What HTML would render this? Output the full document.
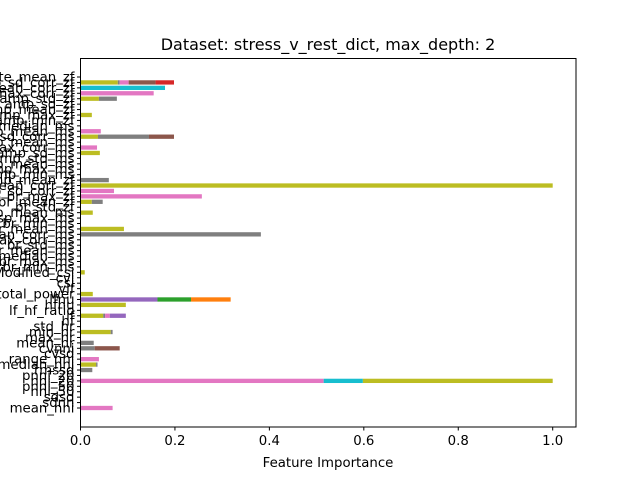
<!DOCTYPE html>
<html><head><meta charset="utf-8"><style>
body{margin:0;background:#fff}
svg{display:block;font-family:"DejaVu Sans","Liberation Sans",sans-serif}
</style></head><body>
<svg id="chart" width="640" height="480" viewBox="0 0 640 480">
<rect width="640" height="480" fill="#fff"/>
<text x="328" y="50" font-size="16" text-anchor="middle" fill="#000">Dataset: stress_v_rest_dict, max_depth: 2</text>
<g id="bars"></g>
<g id="yaxis"></g>
<g id="xaxis"></g>
<rect x="80.5" y="58.5" width="495.5" height="368.5" fill="none" stroke="#000" stroke-width="1"/>
<text x="328" y="467" font-size="13.3" text-anchor="middle" fill="#000">Feature Importance</text>
</svg>
<script>
const categories = ["mean_nni","sdnn","sdsd","nni_50","pnni_50","nni_20","pnni_20","rmssd","median_nni","range_nni","cvsd","cvnni","mean_hr","max_hr","min_hr","std_hr","hf","lf","lf_hf_ratio","hfnu","lfnu","total_power","vlf","csi","cvi","Modified_csi",
"br_min_ms","br_max_ms","br_median_ms","br_mean_ms","br_std_ms","rsp_max_corr_ms","rsp_mean_corr_ms","br_mean_ms","br_min_ms","rsp_max_ms","rsp_mean_ms","br_std_zf","br_mean_zf","br_max_zf","rsp_sd_corr_zf","rsp_mean_corr_zf",
"amp_mean_zf","amp_min_ms","amp_max_ms","amp_mean_ms","amp_std_ms","amp_sd_ms","amp_max_corr_ms","amp_mean_ms","amp_sd_corr_ms","amp_mean_ms","amp_median_ms","amp_min_zf","amp_max_zf","amp_mean_zf","amp_sd_zf","amp_std_zf","amp_max_corr_zf","amp_mean_corr_zf","amp_sd_corr_zf","rate_mean_zf"];
const colorNames = ["#bcbd22","#7f7f7f","#e377c2","#8c564b","#d62728","#17becf","#9467bd","#2ca02c","#ff7f0e"];
const segRow   = [0, 5,5,5, 7, 8,8, 9, 11,11, 12, 14,14, 17,17,17,17, 19, 20,20,20, 21, 25, 32, 33, 36, 38,38, 39, 40, 41, 42, 47, 48, 50,50,50, 51, 54, 57,57, 58, 59, 60,60,60,60,60];
const segColor = [2, 2,5,0, 1, 0,1, 2, 1,3, 1, 0,1, 0,1,2,6, 0, 6,7,8, 0, 0, 1, 0, 0, 0,1, 2, 2, 0, 1, 0, 2, 0,1,3, 2, 0, 0,1, 2, 5, 0,1,2,3,4];
const segValue = [0.068, 0.515,0.083,0.402, 0.025, 0.033,0.003, 0.039, 0.030,0.053, 0.028, 0.064,0.004, 0.048,0.004,0.010,0.034, 0.096, 0.163,0.071,0.084, 0.026, 0.009, 0.382, 0.092, 0.026, 0.024,0.023, 0.257, 0.071, 1.0, 0.060, 0.041, 0.035, 0.037,0.108,0.053, 0.043, 0.024, 0.039,0.038, 0.155, 0.179, 0.079,0.004,0.019,0.057,0.039];
const xTicks = [0,0.2,0.4,0.6,0.8,1.0];
const xTickLabels = ["0.0","0.2","0.4","0.6","0.8","1.0"];

const NS="http://www.w3.org/2000/svg";
const X0=80.5, X1=552.7;
function xs(v){return X0+(X1-X0)*v;}
const Y0=408, YTOP=77;
function ys(i){return Y0-(Y0-YTOP)/(categories.length-1)*i;}
const barH=4.3;
const bars=document.getElementById('bars');
const acc=new Array(categories.length).fill(0);
for(let k=0;k<segRow.length;k++){
  const r=segRow[k], v=segValue[k];
  const rect=document.createElementNS(NS,'rect');
  rect.setAttribute('x',xs(acc[r]));
  rect.setAttribute('y',ys(r)-barH/2);
  rect.setAttribute('width',xs(acc[r]+v)-xs(acc[r]));
  rect.setAttribute('height',barH);
  rect.setAttribute('fill',colorNames[segColor[k]]);
  
  
  bars.appendChild(rect);
  acc[r]+=v;
}
const ya=document.getElementById('yaxis');
categories.forEach((c,i)=>{
  const y=ys(i);
  const t=document.createElementNS(NS,'line');
  t.setAttribute('x1',X0-3.5);t.setAttribute('x2',X0);t.setAttribute('y1',y);t.setAttribute('y2',y);
  t.setAttribute('stroke','#000');
  
  
  ya.appendChild(t);
  const tx=document.createElementNS(NS,'text');
  tx.setAttribute('x',X0-6);tx.setAttribute('y',y+4.5);
  tx.setAttribute('font-size','13.3');tx.setAttribute('text-anchor','end');
  tx.textContent=c;
  
  
  ya.appendChild(tx);
});
const xa=document.getElementById('xaxis');
xTicks.forEach((v,i)=>{
  const x=xs(v);
  const t=document.createElementNS(NS,'line');
  t.setAttribute('x1',x);t.setAttribute('x2',x);t.setAttribute('y1',427);t.setAttribute('y2',430.5);
  t.setAttribute('stroke','#000');
  
  
  xa.appendChild(t);
  const tx=document.createElementNS(NS,'text');
  tx.setAttribute('x',x);tx.setAttribute('y',445);
  tx.setAttribute('font-size','13.3');tx.setAttribute('text-anchor','middle');
  tx.textContent=xTickLabels[i];
  
  
  xa.appendChild(tx);
});
</script>
</body></html>
